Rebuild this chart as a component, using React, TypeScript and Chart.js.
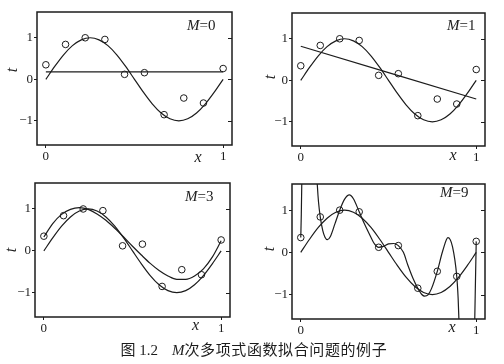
import React, { useEffect, useRef } from 'react';
import { Chart, registerables } from 'chart.js';

Chart.register(...registerables);

// ---- data ----
const dataX = [0, 0.111, 0.222, 0.333, 0.444, 0.556, 0.667, 0.778, 0.889, 1];
const dataT = [0.35, 0.84, 1.0, 0.96, 0.12, 0.16, -0.85, -0.45, -0.57, 0.26];

const gridX = [0, 0.05, 0.1, 0.15, 0.2, 0.25, 0.3, 0.35, 0.4, 0.45, 0.5, 0.55, 0.6, 0.65, 0.7, 0.75, 0.8, 0.85, 0.9, 0.95, 1];
const sineT = [0, 0.31, 0.59, 0.81, 0.95, 1.0, 0.95, 0.81, 0.59, 0.31, 0, -0.31, -0.59, -0.81, -0.95, -1.0, -0.95, -0.81, -0.59, -0.31, 0];

const m0X = [0, 1];
const m0T = [0.18, 0.18];

const m1X = [0, 1];
const m1T = [0.82, -0.45];

const m3T = [0.33, 0.65, 0.87, 0.99, 1.03, 0.99, 0.88, 0.73, 0.54, 0.33, 0.11, -0.1, -0.3, -0.47, -0.6, -0.68, -0.68, -0.6, -0.43, -0.15, 0.24];

const m9X = [0, 0.003, 0.006, 0.01, 0.03, 0.06, 0.08, 0.085, 0.09, 0.095, 0.101, 0.111, 0.125, 0.138, 0.152, 0.168, 0.195, 0.222, 0.25, 0.277, 0.3, 0.333, 0.36, 0.39, 0.42, 0.444, 0.47, 0.5, 0.53, 0.556, 0.585, 0.61, 0.64, 0.667, 0.69, 0.706, 0.725, 0.745, 0.778, 0.81, 0.839, 0.865, 0.889, 0.897, 0.905, 0.93, 0.96, 0.985, 0.992, 0.996, 1];
const m9T = [0.35, 0.9, 1.7, 3.0, 8.0, 8.0, 4.0, 2.6, 1.95, 1.55, 1.2, 0.84, 0.52, 0.36, 0.3, 0.37, 0.68, 1.0, 1.26, 1.36, 1.27, 0.96, 0.7, 0.44, 0.2, 0.12, 0.14, 0.2, 0.21, 0.16, 0.0, -0.3, -0.62, -0.85, -1.0, -1.04, -1.01, -0.86, -0.45, 0.05, 0.35, 0.13, -0.57, -1.1, -2.0, -6.0, -8.0, -3.0, -1.5, -0.6, 0.26];

const orders = ['0', '1', '3', '9'];
const xTicks = [0, 1];
const xTickLabels = ['0', '1'];
const yTicks = [-1, 0, 1];
const yTickLabels = ['−1', '0', '1'];
const xAxisLabel = 'x';
const yAxisLabel = 't';
const captionFigure = '图';
const captionNumber = '1.2';
const captionVar = 'M';
const captionText = '次多项式函数拟合问题的例子';

// ---- layout / style ----
const W = 504;
const H = 364;
const INK = '#1c1c1c';
const SERIF = '"Liberation Serif", "DejaVu Serif", serif';

type Box = { l: number; r: number; t: number; b: number };
type PanelDef = {
  box: Box;
  fitX: number[];
  fitT: number[];
  order: string;
  mLabel: { left: number; top: number };
  xLabel: { cx: number; cy: number };
  tLabel: { cx: number; cy: number };
};

const panels: PanelDef[] = [
  { box: { l: 37, r: 232, t: 12, b: 145 }, fitX: m0X, fitT: m0T, order: orders[0], mLabel: { left: 187, top: 18.4 }, xLabel: { cx: 198, cy: 157 }, tLabel: { cx: 12, cy: 70 } },
  { box: { l: 292, r: 485, t: 13, b: 146 }, fitX: m1X, fitT: m1T, order: orders[1], mLabel: { left: 447, top: 18.4 }, xLabel: { cx: 453, cy: 155 }, tLabel: { cx: 269.5, cy: 76.5 } },
  { box: { l: 35, r: 230, t: 183, b: 317 }, fitX: gridX, fitT: m3T, order: orders[2], mLabel: { left: 185, top: 189.4 }, xLabel: { cx: 195.5, cy: 325 }, tLabel: { cx: 10.5, cy: 249.5 } },
  { box: { l: 292, r: 485, t: 184, b: 319 }, fitX: m9X, fitT: m9T, order: orders[3], mLabel: { left: 440, top: 185.4 }, xLabel: { cx: 452, cy: 327 }, tLabel: { cx: 268.5, cy: 248.5 } },
];

const framePlugin = {
  id: 'frame',
  afterDraw(chart: any) {
    const { ctx, chartArea: a, scales } = chart;
    ctx.save();
    ctx.strokeStyle = INK;
    ctx.lineWidth = 1.5;
    ctx.strokeRect(a.left, a.top, a.right - a.left, a.bottom - a.top);
    ctx.lineWidth = 1;
    ctx.beginPath();
    for (const v of yTicks) {
      const y = Math.round(scales.y.getPixelForValue(v)) + 0.5;
      ctx.moveTo(a.right, y);
      ctx.lineTo(a.right - 4, y);
    }
    ctx.stroke();
    ctx.restore();
  },
};

function PanelChart({ p }: { p: PanelDef }) {
  const ref = useRef<HTMLCanvasElement>(null);
  useEffect(() => {
    const AXW = 26;
    const AXH = 18;
    const g = p.box;
    const lineStyle = {
      showLine: true,
      pointRadius: 0,
      borderColor: INK,
      borderWidth: 1.2,
      cubicInterpolationMode: 'monotone' as const,
    };
    const chart = new Chart(ref.current!, {
      type: 'scatter',
      data: {
        datasets: [
          { ...lineStyle, data: gridX.map((x, i) => ({ x, y: sineT[i] })) },
          { ...lineStyle, data: p.fitX.map((x, i) => ({ x, y: p.fitT[i] })) },
          {
            data: dataX.map((x, i) => ({ x, y: dataT[i] })),
            showLine: false,
            pointRadius: 3.3,
            pointBorderWidth: 1,
            pointBorderColor: INK,
            pointBackgroundColor: 'rgba(0,0,0,0)',
            borderColor: INK,
            backgroundColor: 'rgba(0,0,0,0)',
          },
        ],
      },
      options: {
        animation: false,
        responsive: false,
        events: [],
        layout: { padding: { left: g.l - AXW, top: g.t, right: W - g.r, bottom: H - g.b - AXH } },
        plugins: { legend: { display: false }, tooltip: { enabled: false }, title: { display: false } },
        scales: {
          x: {
            type: 'linear',
            min: -0.05,
            max: 1.05,
            afterFit: (s: any) => { s.height = AXH; },
            afterBuildTicks: (s: any) => { s.ticks = xTicks.map((v) => ({ value: v })); },
            ticks: {
              callback: (v: any) => xTickLabels[xTicks.indexOf(Number(v))],
              font: { family: SERIF, size: 13 },
              color: INK,
              padding: 1,
              maxRotation: 0,
              autoSkip: false,
            },
            grid: { drawOnChartArea: false, tickLength: 3, color: INK, lineWidth: 1 },
            border: { display: false },
          },
          y: {
            type: 'linear',
            min: -1.58,
            max: 1.62,
            afterFit: (s: any) => { s.width = AXW; },
            afterBuildTicks: (s: any) => { s.ticks = yTicks.map((v) => ({ value: v })); },
            ticks: {
              callback: (v: any) => yTickLabels[yTicks.indexOf(Number(v))],
              font: { family: SERIF, size: 13 },
              color: INK,
              padding: 1,
              autoSkip: false,
            },
            grid: { drawOnChartArea: false, tickLength: 3, color: INK, lineWidth: 1 },
            border: { display: false },
          },
        },
      },
      plugins: [framePlugin],
    } as any);
    return () => chart.destroy();
  }, [p]);
  return (
    <canvas
      ref={ref}
      width={W}
      height={H}
      style={{ position: 'absolute', left: 0, top: 0, width: W, height: H }}
    />
  );
}

export default function App() {
  return (
    <div style={{ position: 'absolute', left: 0, top: 0, width: W, height: H, overflow: 'hidden', background: '#fff', color: INK }}>
      {panels.map((p, i) => (
        <PanelChart key={i} p={p} />
      ))}
      {panels.map((p, i) => (
        <React.Fragment key={'l' + i}>
          <div style={{ position: 'absolute', left: p.mLabel.left, top: p.mLabel.top, fontFamily: SERIF, fontSize: 15, lineHeight: '15px', whiteSpace: 'pre' }}>
            <span style={{ fontStyle: 'italic' }}>M</span>
            <span>{'=' + p.order}</span>
          </div>
          <div style={{ position: 'absolute', left: p.xLabel.cx, top: p.xLabel.cy, transform: 'translate(-50%, -50%)', fontFamily: SERIF, fontStyle: 'italic', fontSize: 16, lineHeight: '16px' }}>
            {xAxisLabel}
          </div>
          <div style={{ position: 'absolute', left: p.tLabel.cx, top: p.tLabel.cy, transform: 'translate(-50%, -50%) rotate(-90deg)', fontFamily: SERIF, fontStyle: 'italic', fontSize: 16, lineHeight: '16px' }}>
            {yAxisLabel}
          </div>
        </React.Fragment>
      ))}
      <div style={{ position: 'absolute', left: 120.5, top: 341, fontSize: 15, lineHeight: '15px', whiteSpace: 'pre' }}>
        <span style={{ fontFamily: '"Noto Sans CJK SC", sans-serif' }}>{captionFigure}</span>
        <span style={{ fontFamily: SERIF }}>{' ' + captionNumber}</span>
        <span style={{ fontFamily: SERIF, fontStyle: 'italic', marginLeft: 14 }}>{captionVar}</span>
        <span style={{ fontFamily: '"Noto Sans CJK SC", sans-serif', letterSpacing: '0.6px' }}>{captionText}</span>
      </div>
    </div>
  );
}
